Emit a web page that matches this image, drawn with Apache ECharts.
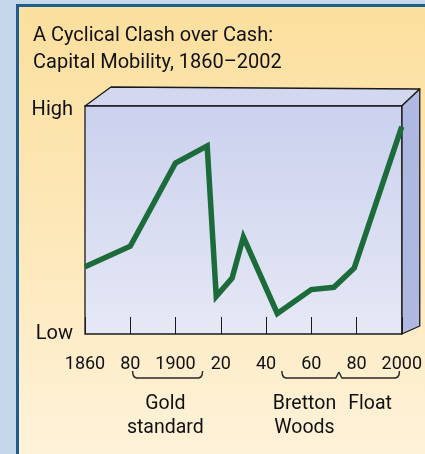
<!DOCTYPE html>
<html>
<head>
<meta charset="utf-8">
<script src="https://cdn.jsdelivr.net/npm/echarts@6/dist/echarts.min.js"></script>
<style>html,body{margin:0;padding:0;background:#c4d8ea;}#c{width:425px;height:454px;}</style>
</head>
<body>
<div id="c"></div>
<script>
// ---- data ----
const years = [1860, 1880, 1900, 1914, 1918, 1925, 1930, 1945, 1960, 1970, 1979, 2000];
const mobility = [29.5, 38.5, 75, 82.5, 16.5, 24.5, 42.5, 9, 19.5, 20.5, 29, 91];
const tickYears = [1860, 1880, 1900, 1920, 1940, 1960, 1980, 2000];
const tickLabels = ['1860', '80', '1900', '20', '40', '60', '80', '2000'];
const yLabels = ['Low', 'High'];
const periodNames = ['Gold\nstandard', 'Bretton\nWoods', 'Float'];
const periodStart = [1881, 1947, 1972.2];
const periodEnd = [1912, 1972.2, 1999];
const periodJoinLeft = [false, false, true];
const periodJoinRight = [false, true, false];
const periodLabelYear = [1895.5, 1957, 1986];

const FONT = 'Roboto';
const TXT = '#111011';
const chart = echarts.init(document.getElementById('c'), null, {renderer: 'canvas'});

chart.setOption({
  backgroundColor: '#c4d8ea',
  animation: false,
  title: {
    text: 'A Cyclical Clash over Cash:\nCapital Mobility, 1860\u20132002',
    left: 33, top: 22, padding: 0,
    textStyle: {fontFamily: FONT, fontSize: 20, fontWeight: 'normal', color: TXT, lineHeight: 27}
  },
  grid: {left: 85, right: 23, top: 106, bottom: 120},
  xAxis: {
    type: 'value', min: 1860, max: 2000, interval: 20,
    axisLine: {show: false},
    splitLine: {show: false},
    axisTick: {show: true, inside: true, length: 17, lineStyle: {color: '#1a1a1a', width: 1}},
    axisLabel: {
      margin: 21, fontFamily: FONT, fontSize: 18, color: TXT,
      formatter: v => { const i = tickYears.indexOf(v); return i >= 0 ? tickLabels[i] : ''; }
    }
  },
  yAxis: {
    type: 'value', min: 0, max: 100, interval: 100,
    axisLine: {show: false}, axisTick: {show: false}, splitLine: {show: false},
    axisLabel: {
      margin: 12, fontFamily: FONT, fontSize: 20, color: TXT,
      formatter: v => v === 0 ? '{l|' + yLabels[0] + '}' : (v === 100 ? '{h|' + yLabels[1] + '}' : ''),
      rich: {
        l: {fontFamily: FONT, fontSize: 20, color: TXT},
        h: {fontFamily: FONT, fontSize: 20, color: TXT, padding: [8, 0, 0, 0]}
      }
    }
  },
  series: [{
    type: 'line', z: 10,
    data: years.map((y, i) => [y, mobility[i]]),
    symbol: 'none',
    lineStyle: {color: '#1b6b3b', width: 5.5, join: 'miter', cap: 'butt'}
  }]
});

function px(x, y) { return chart.convertToPixel({gridIndex: 0}, [x, y]); }
const TL = px(1860, 100), TR = px(2000, 100), BR = px(2000, 0), BL = px(1860, 0);
const ax = BL[1];
const g = [];
// panel
g.push({type: 'rect', z: -20, shape: {x: 17.5, y: 5.5, width: 430, height: 470},
  style: {fill: new echarts.graphic.LinearGradient(0, 0, 0, 1, [
    {offset: 0, color: '#fbdf9d'}, {offset: 0.5, color: '#fde8ba'}, {offset: 1, color: '#fef3dc'}]),
    stroke: '#1d5c8c', lineWidth: 3}});
// top face
g.push({type: 'polygon', z: -10, shape: {points: [TL, [TL[0] + 26, TL[1] - 19], [TR[0] + 18, TR[1] - 17], TR]},
  style: {fill: '#d3d8f0', stroke: '#1a1a1a', lineWidth: 1.3, lineJoin: 'round'}});
// side face
g.push({type: 'polygon', z: -10, shape: {points: [TR, [TR[0] + 18, TR[1] - 17], [BR[0] + 18, BR[1] - 8], BR]},
  style: {fill: '#afb8e0', stroke: '#1a1a1a', lineWidth: 1.3, lineJoin: 'round'}});
// front face
g.push({type: 'rect', z: -9, shape: {x: TL[0], y: TL[1], width: TR[0] - TL[0], height: BL[1] - TL[1]},
  style: {fill: new echarts.graphic.LinearGradient(0, 0, 0, 1, [
    {offset: 0, color: '#cbd1ee'}, {offset: 1, color: '#e6e8f5'}]),
    stroke: '#1a1a1a', lineWidth: 1.3}});
// braces and period labels
const yTop = ax + 37, yBot = ax + 44, yPeak = ax + 38;
for (let i = 0; i < periodNames.length; i++) {
  const x1 = px(periodStart[i], 0)[0], x2 = px(periodEnd[i], 0)[0];
  const pts = [];
  if (periodJoinLeft[i]) { pts.push([x1, yPeak], [x1 + 3, yBot]); }
  else { pts.push([x1, yTop], [x1 + 0.6, yBot - 3], [x1 + 1.8, yBot - 1], [x1 + 4, yBot]); }
  if (periodJoinRight[i]) { pts.push([x2 - 3, yBot], [x2, yPeak]); }
  else { pts.push([x2 - 4, yBot], [x2 - 1.8, yBot - 1], [x2 - 0.6, yBot - 3], [x2, yTop]); }
  g.push({type: 'polyline', z: 5, shape: {points: pts},
    style: {fill: null, stroke: '#2a2a2a', lineWidth: 1.5, lineJoin: 'round'}});
  const lx = px(periodLabelYear[i], 0)[0];
  g.push({type: 'text', z: 5, x: lx, y: ax + 58,
    style: {text: periodNames[i], font: '19.5px ' + FONT, fill: TXT,
      align: 'center', verticalAlign: 'top', lineHeight: 24}});
}
chart.setOption({graphic: g});
</script>
</body>
</html>
